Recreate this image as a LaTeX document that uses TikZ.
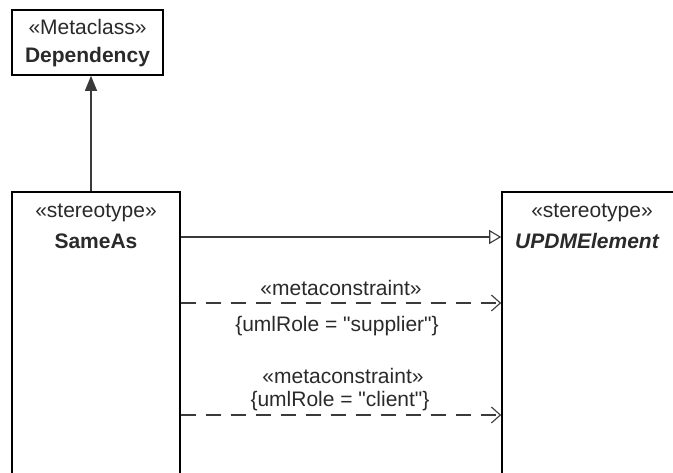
\documentclass[tikz,border=0pt]{standalone}
\usepackage{fontspec}
\setmainfont{Liberation Sans}[Ligatures=TeXOff]
\usetikzlibrary{arrows.meta,positioning}
\definecolor{cInk}{HTML}{2A2A2A}
\definecolor{cLine}{HTML}{3A3A3A}
\tikzset{
  every node/.style={font=\fontsize{21}{25}\selectfont, text=cInk},
  cls/.style={draw=black, line width=1.6pt, fill=white, inner sep=0pt},
  stereo/.style={inner sep=1pt},
  cname/.style={font=\fontsize{21}{25}\selectfont\bfseries, inner sep=1pt},
  gen/.style={-{Triangle[open,length=12pt,width=14pt]}, line width=1.1pt, draw=cLine},
  ext/.style={-{Triangle[length=15pt,width=12pt]}, line width=1.1pt, draw=cLine},
  dep/.style={-{Straight Barb[length=9pt,width=16pt]}, line width=1.1pt, draw=cLine, dash pattern=on 15pt off 10pt},
  lbl/.style={inner sep=1pt},
}
\begin{document}
\begin{tikzpicture}[x=1pt,y=-1pt]
\useasboundingbox (0,0) rectangle (673,472);
\clip (0,0) rectangle (673,472);
% classes
\node[cls, minimum width=151pt, minimum height=65pt] (depcls) at (87.5,42.5) {};
\node[stereo] (depst) at (87.5,27) {«Metaclass»};
\node[cname] (depnm) at (87.5,57) {Dependency};
\node[cls, minimum width=168pt, minimum height=320pt] (same) at (96,352) {};
\node[stereo] (samest) at (96,213) {«stereotype»};
\node[cname] (samenm) at (96,241) {SameAs};
\node[cls, minimum width=200pt, minimum height=320pt] (updm) at (602,352) {};
\node[stereo] (updmst) at (592,213) {«stereotype»};
\node[cname, font=\fontsize{21}{25}\selectfont\bfseries\itshape] (updmnm) at (587,241) {UPDMElement};
% connector labels
\node[lbl] (mc1) at (341,288) {«metaconstraint»};
\node[lbl] (role1) at (337,326) {\{umlRole = "supplier"\}};
\node[lbl] (mc2) at (343,376) {«metaconstraint»};
\node[lbl] (role2) at (340,401) {\{umlRole = "client"\}};
% connectors
\draw[ext] (same.north -| 91,0) -- (depcls.south -| 91,0);
\draw[gen] (same.east |- 0,237) -- (updm.west |- 0,237);
\draw[dep] (same.east |- 0,303) -- (updm.west |- 0,303);
\draw[dep] (same.east |- 0,415) -- (updm.west |- 0,415);
\end{tikzpicture}
\end{document}
